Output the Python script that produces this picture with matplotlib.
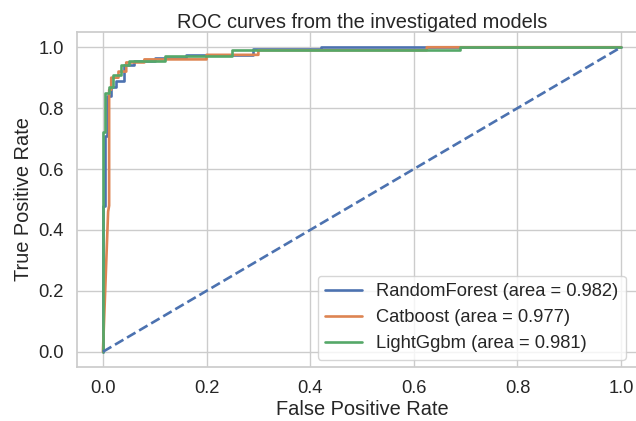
import matplotlib
matplotlib.use("Agg")
import matplotlib.pyplot as plt
import seaborn as sns

# step points
rf_fpr = [0, 0, 0.004, 0.004, 0.008, 0.008, 0.015, 0.015, 0.025, 0.025, 0.04, 0.04,
          0.06, 0.06, 0.10, 0.10, 0.16, 0.16, 0.29, 0.29, 0.42, 0.42, 1.0]
rf_tpr = [0, 0.48, 0.48, 0.71, 0.71, 0.84, 0.84, 0.87, 0.87, 0.89, 0.89, 0.94,
          0.94, 0.955, 0.955, 0.965, 0.965, 0.975, 0.975, 0.995, 0.995, 1.0, 1.0]

cat_fpr = [0, 0.010, 0.012, 0.012, 0.016, 0.016, 0.03, 0.03, 0.045, 0.045,
           0.08, 0.08, 0.20, 0.20, 0.30, 0.30, 0.625, 0.625, 1.0]
cat_tpr = [0, 0.46, 0.48, 0.86, 0.86, 0.90, 0.90, 0.92, 0.92, 0.95,
           0.95, 0.96, 0.96, 0.975, 0.975, 0.99, 0.99, 1.0, 1.0]

lgb_fpr = [0, 0, 0.004, 0.004, 0.012, 0.012, 0.02, 0.02, 0.035, 0.035,
           0.05, 0.05, 0.12, 0.12, 0.25, 0.25, 0.69, 0.69, 1.0]
lgb_tpr = [0, 0.72, 0.72, 0.85, 0.85, 0.87, 0.87, 0.91, 0.91, 0.94,
           0.94, 0.955, 0.955, 0.97, 0.97, 0.99, 0.99, 1.0, 1.0]

labels = ["RandomForest (area = 0.982)", "Catboost (area = 0.977)", "LightGgbm (area = 0.981)"]

sns.set_theme(style="whitegrid", font_scale=1.2)
plt.rcParams['font.family'] = ['Liberation Sans', 'DejaVu Sans']
plt.rcParams['lines.linewidth'] = 1.9

fig = plt.figure(figsize=(6.36, 4.21), dpi=100)
ax = fig.add_axes([0.1211, 0.1283, 0.8962, 0.7957])  # right edge is cut off like the reference

ax.plot(rf_fpr, rf_tpr, label=labels[0])
ax.plot(cat_fpr, cat_tpr, label=labels[1])
ax.plot(lgb_fpr, lgb_tpr, label=labels[2])
ax.plot([0, 1], [0, 1], 'b--')

ax.set_xlim(-0.05, 1.05)
ax.set_ylim(-0.05, 1.05)
ax.set_xlabel("False Positive Rate", labelpad=2)
ax.set_ylabel("True Positive Rate")
ax.set_title("ROC curves from the investigated models", pad=3)
ax.legend(loc="lower right", bbox_to_anchor=(0.963, 0.022), borderaxespad=0)

fig.savefig("out.png", dpi=100)
